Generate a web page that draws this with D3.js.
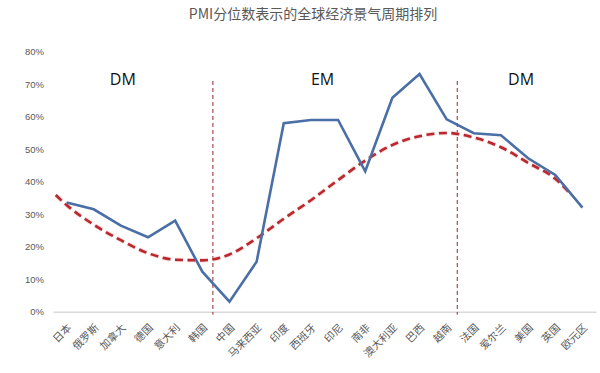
<!DOCTYPE html>
<html><head><meta charset="utf-8">
<script src="https://cdn.jsdelivr.net/npm/d3@7/dist/d3.min.js"></script>
<style>
html,body{margin:0;padding:0;background:#fff;}
svg{display:block;}
</style></head>
<body>
<svg id="chart" width="600" height="373"></svg>
<script>
const title = "PMI分位数表示的全球经济景气周期排列";
const categories = ["日本","俄罗斯","加拿大","德国","意大利","韩国","中国","马来西亚","印度","西班牙","印尼","南非","澳大利亚","巴西","越南","法国","爱尔兰","美国","英国","欧元区"];
const pmiPct = [33.6,31.5,26.5,22.9,28.0,12.3,3.1,15.4,58.0,59.0,59.0,43.2,65.8,73.1,59.2,54.9,54.3,47.2,42.1,32.0];
const trendPct = [32.8,26.8,22.0,18.0,16.0,15.8,17.6,22.6,28.6,34.3,40.5,46.5,51.3,54.0,55.0,53.6,50.6,45.8,40.9];
const trendLead = 35.9;   // trend value half a step before the first category
const trendTail = 35.9;   // trend value after the last trend point
const yTicks = [0,10,20,30,40,50,60,70,80];
const groupLabels = ["DM","EM","DM"];

const svg = d3.select("#chart");
const W = 600, H = 373;
const m = {left:53, right:4, top:51.7, bottom:61.3};
const x = d3.scaleBand().domain(categories).range([m.left, W - m.right]).paddingInner(0).paddingOuter(0);
const step = x.step();
const cx = c => x(c) + step/2;
const xi = i => m.left + step*(i + 0.5);
const y = d3.scaleLinear().domain([0,80]).range([H - m.bottom, m.top]);

// title
svg.append("text").attr("x", 313).attr("y", 19).attr("text-anchor","middle")
  .attr("font-family","'Noto Sans CJK SC', sans-serif").attr("font-size",14).attr("fill","#595959")
  .text(title);

// y axis labels
const yAxis = d3.axisLeft(y).tickValues(yTicks).tickFormat(d => d + "%").tickSize(0).tickPadding(0);
const gy = svg.append("g").attr("transform", `translate(${m.left - 9},0)`).call(yAxis);
gy.select(".domain").remove();
gy.selectAll("text").attr("font-family","'Liberation Sans', Arial, sans-serif").attr("font-size",9.5).attr("fill","#595959");

// x axis line
const xAxis = d3.axisBottom(x).tickSize(0).tickFormat("");
const gx = svg.append("g").attr("transform", `translate(0,${y(0)})`).call(xAxis);
gx.select(".domain").attr("stroke","#d9d9d9").attr("stroke-width",1.5);

// x labels
svg.append("g").selectAll("text").data(categories).join("text")
  .attr("transform", d => `translate(${cx(d) + 3},${y(0) + 14}) rotate(-45)`)
  .attr("text-anchor","end").attr("dy","0.35em")
  .attr("font-family","'Noto Sans CJK SC', sans-serif").attr("font-size",10.5).attr("fill","#595959")
  .text(d => d);

// dividers between 韩国|中国 and 越南|法国
svg.append("g").selectAll("line").data([[categories[5],categories[6]],[categories[14],categories[15]]]).join("line")
  .attr("x1", d => (cx(d[0]) + cx(d[1]))/2 - 3).attr("x2", d => (cx(d[0]) + cx(d[1]))/2 - 3)
  .attr("y1", y(71)).attr("y2", y(0) + 3)
  .attr("stroke","#9b2226").attr("stroke-width",1).attr("stroke-dasharray","4,3");

// group labels
const groupPos = [2.07, 9.43, 16.74];
svg.append("g").selectAll("text").data(groupLabels).join("text")
  .attr("x", (d,i) => xi(groupPos[i]))
  .attr("y", y(71.5))
  .attr("text-anchor","middle").attr("dy","0.35em")
  .attr("font-family","'Open Sans', 'Liberation Sans', sans-serif").attr("font-size",16).attr("fill","#111")
  .text(d => d);

// trend line
const trendPts = [[xi(-0.4), trendLead]].concat(trendPct.map((v,i) => [cx(categories[i]), v])).concat([[xi(18.6), trendTail]]);
const trendLine = d3.line().x(d => d[0]).y(d => y(d[1])).curve(d3.curveMonotoneX);
svg.append("path").attr("d", trendLine(trendPts)).attr("fill","none")
  .attr("stroke","#f4b6b6").attr("stroke-width",4.5).attr("stroke-dasharray","8,4.5").attr("stroke-opacity",0.5);
svg.append("path").attr("d", trendLine(trendPts)).attr("fill","none")
  .attr("stroke","#b8282e").attr("stroke-width",2.6).attr("stroke-dasharray","8,4.5");

// main line
const line = d3.line().x((d,i) => cx(categories[i])).y(d => y(d));
svg.append("path").attr("d", line(pmiPct)).attr("fill","none")
  .attr("stroke","#4a6ea6").attr("stroke-width",2.6).attr("stroke-linejoin","miter");
</script>
</body></html>
